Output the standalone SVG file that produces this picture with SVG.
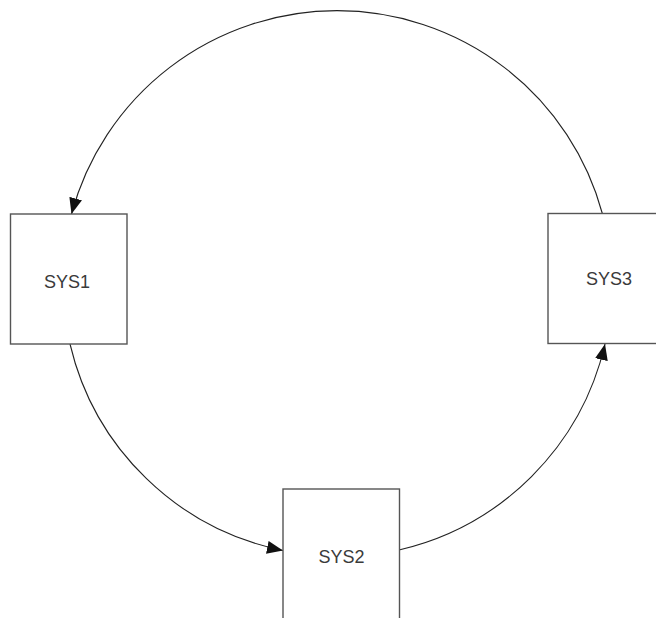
<svg xmlns="http://www.w3.org/2000/svg" width="656" height="618" viewBox="0 0 656 618">
<style>
.box{fill:#fff;stroke:#555;stroke-width:1.4}
.lbl{font-family:"Liberation Sans",Arial,sans-serif;font-size:18px;fill:#3a3a3a;text-anchor:middle}
.conn{fill:none;stroke:#222;stroke-width:1.1;marker-end:url(#arr)}
</style>
<defs>
<marker id="arr" markerUnits="userSpaceOnUse" markerWidth="18" markerHeight="14" refX="16" refY="6.5" orient="auto">
<path d="M0,0 L16,6.5 L0,13 Z" fill="#111"/>
</marker>
</defs>
<rect width="656" height="618" fill="#fff"/>
<g id="connectors">
<path class="conn" d="M602.5,214 A275,275 0 0 0 71.5,214"/>
<path class="conn" d="M70,344 A275,275 0 0 0 283,550.5"/>
<path class="conn" d="M399,550 A275,275 0 0 0 605,344"/>
</g>
<g id="SYS1">
<rect class="box" x="10.5" y="214" width="116.5" height="130"/>
<text class="lbl" x="67" y="288">SYS1</text>
</g>
<g id="SYS2">
<rect class="box" x="283" y="489" width="116.5" height="135"/>
<text class="lbl" x="341.5" y="563">SYS2</text>
</g>
<g id="SYS3">
<rect class="box" x="548" y="213.5" width="116.5" height="130"/>
<text class="lbl" x="609" y="285">SYS3</text>
</g>
</svg>
